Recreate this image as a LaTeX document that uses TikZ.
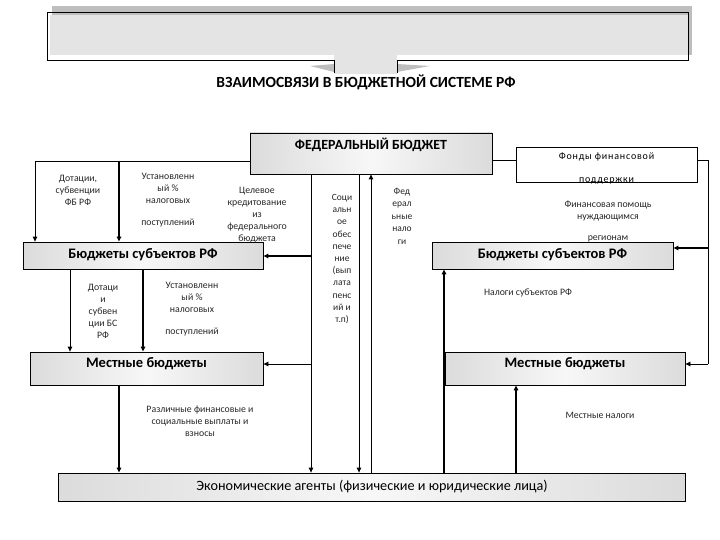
\documentclass[tikz,border=0pt]{standalone}
\usepackage{fontspec}
\setmainfont{Carlito}
\usetikzlibrary{arrows.meta}
\definecolor{shadowgray}{RGB}{190,190,190}
\definecolor{bannergray}{RGB}{228,228,228}
\tikzset{
  box/.style={draw=black, line width=0.8pt, left color=gray!28, right color=gray!28, middle color=gray!6, inner sep=0pt},
  whitebox/.style={draw=black, line width=0.8pt, fill=white, inner sep=0pt},
  lbl/.style={font=\fontsize{9.8}{12}\selectfont, align=center, inner sep=0pt, text=black!85},
  boxtext/.style={font=\fontsize{14.5}{16}\selectfont\bfseries, inner sep=0pt},
  conn/.style={line width=0.8pt},
  thickconn/.style={line width=1.6pt},
  arr/.style={-{Triangle[length=5pt,width=4.5pt]}},
}
\begin{document}
\begin{tikzpicture}[x=1pt,y=-1pt]
\useasboundingbox (0,0) rectangle (720,540);
% banner
\fill[shadowgray] (52,6) rectangle (692,55);
\fill[bannergray] (50,15) rectangle (688,55);
\fill[bannergray] (334,55) rectangle (397,74);
\fill[shadowgray] (310,66) -- (334,64) -- (334,72) -- cycle;
\fill[shadowgray] (397,64) -- (430,66) -- (397,72) -- cycle;
\draw[line width=0.8pt] (334,73) -- (334,60) -- (47,60) -- (47,12) -- (688,12) -- (688,60) -- (397,60) -- (397,73);
\node[font=\fontsize{15.5}{17}\selectfont\bfseries, inner sep=0pt] (title) at (366,82) {ВЗАИМОСВЯЗИ В БЮДЖЕТНОЙ СИСТЕМЕ РФ};
% boxes
\node[box, minimum width=242pt, minimum height=41pt] (fed) at (371,153.5) {};
\node[font=\fontsize{14}{16}\selectfont\bfseries, inner sep=0pt] (fedt) at (371,145) {ФЕДЕРАЛЬНЫЙ БЮДЖЕТ};
\node[whitebox, minimum width=181pt, minimum height=35pt] (fonds) at (606.5,164.5) {};
\node[font=\fontsize{10}{12}\selectfont\addfontfeature{LetterSpace=8}, inner sep=0pt] (fondst1) at (606.5,157) {Фонды финансовой};
\node[font=\fontsize{10}{12}\selectfont\addfontfeature{LetterSpace=8}, inner sep=0pt] (fondst2) at (606.5,181) {поддержки};
\node[box, minimum width=240pt, minimum height=27pt] (lsub) at (143,255.5) {};
\node[boxtext] (lsubt) at (143,255) {Бюджеты субъектов РФ};
\node[box, minimum width=241pt, minimum height=27pt] (rsub) at (552.5,255.5) {};
\node[boxtext] (rsubt) at (552.5,255) {Бюджеты субъектов РФ};
\node[box, minimum width=233pt, minimum height=33pt] (lmest) at (146.5,368.5) {};
\node[boxtext] (lmestt) at (146.5,364) {Местные бюджеты};
\node[box, minimum width=240pt, minimum height=33pt] (rmest) at (565,368.5) {};
\node[boxtext] (rmestt) at (565,364) {Местные бюджеты};
\node[box, minimum width=627pt, minimum height=28pt] (econ) at (371.5,487) {};
\node[font=\fontsize{14.2}{16}\selectfont, inner sep=0pt] (econt) at (372,486) {Экономические агенты (физические и юридические лица)};
% connector points
\coordinate (fl) at (fed.west |- 0,161);
\coordinate (c35) at (35,161);
\coordinate (c119) at (119,161);
% left from fed
\draw[conn] (fl) -- (c35);
\draw[conn,arr] (c35) -- (c35 |- lsub.north);
\draw[thickconn,arr] (c119) -- (c119 |- lsub.north);
% soc line 311
\coordinate (s1) at (311,0);
\draw[conn,arr] (s1 |- fed.south) -- (s1 |- econ.north);
\draw[thickconn,arr] (s1 |- 0,256) -- (lsub.east |- 0,256);
\draw[conn,arr] (s1 |- 0,364) -- (lmest.east |- 0,364);
% line 359
\coordinate (s2) at (359,0);
\draw[conn,arr] (s2 |- fed.south) -- (s2 |- econ.north);
% fed taxes 371 up
\coordinate (s3) at (371,0);
\draw[conn,arr] (s3 |- econ.north) -- (s3 |- fed.south);
% fed to fonds
\draw[conn] (fed.east |- 0,160) -- (fonds.west |- 0,160);
\coordinate (r1) at (708,160);
\draw[conn] (fonds.east |- 0,160) -- (r1) -- (708,364);
\draw[conn,arr] (708,364) -- (rmest.east |- 0,364);
\draw[thickconn,arr] (708,248) -- (rsub.east |- 0,248);
% left subj to left mest
\coordinate (d70) at (70,0);
\coordinate (d143) at (143,0);
\draw[conn,arr] (d70 |- lsub.south) -- (d70 |- lmest.north);
\draw[thickconn,arr] (d143 |- lsub.south) -- (d143 |- lmest.north);
% left mest to econ
\coordinate (d119) at (119,0);
\draw[thickconn,arr] (d119 |- lmest.south) -- (d119 |- econ.north);
% econ up to right subj and right mest
\coordinate (u444) at (444,0);
\coordinate (u516) at (516,0);
\draw[thickconn,arr] (u444 |- econ.north) -- (u444 |- rsub.south);
\draw[thickconn,arr] (u516 |- econ.north) -- (u516 |- rmest.south);
% labels
\node[lbl] (l1) at (78,190) {Дотации,\\субвенции\\ФБ РФ};
\node[lbl] (l2) at (168,200) {Установленн\\ый \%\\налоговых\\[10pt]поступлений};
\node[lbl] (l3) at (257,215) {Целевое\\кредитование\\из\\федерального\\бюджета};
\node[lbl, font=\fontsize{9.5}{12.2}\selectfont] (l4) at (342,259) {Соци\\альн\\ое\\обес\\пече\\ние\\(вып\\лата\\пенс\\ий и\\т.п)};
\node[lbl, font=\fontsize{9.5}{12.5}\selectfont] (l5) at (402,216) {Фед\\ерал\\ьные\\нало\\ги};
\node[lbl] (l6) at (608,211) {Финансовая помощь\\нуждающимся};
\node[lbl] (l7) at (608,239) {регионам};
\node[lbl] (l8) at (103,311) {Дотаци\\и\\субвен\\ции БС\\РФ};
\node[lbl] (l9) at (192,309) {Установленн\\ый \%\\налоговых\\[10pt]поступлений};
\node[lbl] (l10) at (528,293) {Налоги субъектов РФ};
\node[lbl] (l11) at (200,421) {Различные финансовые и\\социальные выплаты и\\взносы};
\node[lbl] (l12) at (600,415) {Местные налоги};
\end{tikzpicture}
\end{document}
